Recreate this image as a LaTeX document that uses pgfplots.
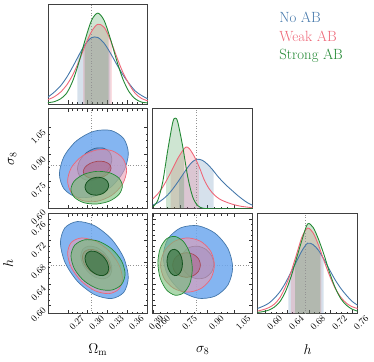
\documentclass[border=0pt]{standalone}
\usepackage{pgfplots}
\pgfplotsset{compat=1.18}
\usepgfplotslibrary{fillbetween}

\definecolor{cb}{HTML}{4477AA}
\definecolor{cp}{HTML}{EE6677}
\definecolor{cg}{HTML}{228833}
\definecolor{cbF}{HTML}{6EA8EE}
\definecolor{cbD}{HTML}{3C78C8}
\definecolor{cpF}{HTML}{E89CB4}
\definecolor{cpD}{HTML}{B05A7A}
\definecolor{cgF}{HTML}{74BC74}
\definecolor{cgD}{HTML}{2E6E3A}

\pgfplotsset{
  corner/.style={
    scale only axis, width=101.5pt, height=101.5pt,
    axis line style={black!75, line width=0.7pt},
    tick align=inside,
    major tick length=3.5pt, minor tick length=2pt,
    every tick/.style={black!80, line width=0.45pt},
    ticklabel style={font=\fontsize{9.5}{10}\selectfont},
    xticklabel style={rotate=45, anchor=center, yshift=-13pt},
    yticklabel style={rotate=45, anchor=center, xshift=-13.5pt},
    minor x tick num=3, minor y tick num=3,
  },
  oned/.style={corner, ymin=0, ymax=101.5, ytick=\empty, xtick pos=left},
  omx/.style={xmin=0.24, xmax=0.391, xtick={0.27,0.30,0.33,0.36,0.39}},
  s8x/.style={xmin=0.595, xmax=1.153, xtick={0.60,0.75,0.90,1.05}},
  s8y/.style={ymin=0.595, ymax=1.153, ytick={0.60,0.75,0.90,1.05}},
  hx/.style={xmin=0.585, xmax=0.770, xtick={0.60,0.64,0.68,0.72,0.76}},
  hy/.style={ymin=0.585, ymax=0.770, ytick={0.60,0.64,0.68,0.72,0.76}},
  fid/.style={gray!85, dotted, line width=0.7pt},
  crv/.style={line width=0.9pt, smooth},
  outB/.style={draw=cb, line width=0.7pt, fill=cbF, fill opacity=0.85, smooth cycle},
  inB/.style={draw=cb!80!black, line width=0.7pt, fill=cbD, fill opacity=0.5, smooth cycle},
  outP/.style={draw=cp, line width=0.7pt, fill=cpF, fill opacity=0.6, smooth cycle},
  inP/.style={draw=cp!70!black, line width=0.7pt, fill=cpD, fill opacity=0.45, smooth cycle},
  outG/.style={draw=cg, line width=0.7pt, fill=cgF, fill opacity=0.6, smooth cycle},
  inG/.style={draw=cg!60!black, line width=0.8pt, fill=cgD, fill opacity=0.6, smooth cycle},
}

% 1D posteriors (heights in arbitrary units)
\pgfplotstableread{
x b p g
0.2400 6.8 4.3 1.2
0.2494 11.8 7.1 2.2
0.2589 18.1 11.8 5.0
0.2683 26.8 19.0 10.8
0.2777 37.8 29.6 23.5
0.2872 49.9 43.7 42.9
0.2966 60.8 59.7 65.8
0.3061 67.3 73.7 85.0
0.3155 67.4 80.9 92.2
0.3250 61.6 77.8 84.7
0.3344 51.7 65.0 66.3
0.3439 40.3 47.9 44.2
0.3533 29.6 32.1 25.2
0.3627 20.7 20.0 12.2
0.3722 13.0 10.5 5.0
0.3816 8.5 5.5 1.8
0.3911 5.0 3.0 1.0
}\omtab

\pgfplotstableread{
x y
0.5950 1.8
0.6229 8.4
0.6508 27.2
0.6787 59.3
0.7066 87.6
0.7205 92.0
0.7345 88.2
0.7623 63.3
0.7903 32.5
0.8181 12.0
0.8460 3.2
0.8739 0.6
0.9018 0.1
0.9483 0.0
1.1528 0.0
}\sgtab

\pgfplotstableread{
x y
0.5950 10
0.6229 15
0.6508 22
0.6787 31
0.7066 41
0.7345 51
0.7623 59
0.7810 62.7
0.7996 61
0.8274 53
0.8554 42
0.8832 29
0.9111 20
0.9390 14
0.9669 10
0.9947 7.5
1.0412 4.5
1.0878 2.5
1.1528 1
}\sptab

\pgfplotstableread{
x y
0.5950 3.7
0.6229 6
0.6508 9.5
0.6787 14
0.7066 20
0.7345 27
0.7623 34.5
0.7903 42
0.8181 48
0.8460 50.3
0.8739 49
0.9018 45
0.9297 39.5
0.9576 33
0.9854 27.5
1.0134 22.5
1.0412 18
1.0691 13.5
1.0971 9.5
1.1249 6
1.1528 3.5
}\sbtab

\pgfplotstableread{
x b p g
0.5850 5.2 2.5 1.2
0.5953 7.5 4 2
0.6056 10.5 6 3.5
0.6158 15.5 9.5 6.5
0.6261 22 16 12
0.6364 31 27 22
0.6467 42 42 37
0.6570 53 60 56
0.6673 64 78 75
0.6775 71.5 86.8 91
0.6878 70 82 87.5
0.6981 64 69 75
0.7084 54.5 53 59
0.7187 44 38 41
0.7289 34 25.5 26
0.7392 25.5 16.5 15
0.7495 18.5 10.5 8.5
0.7598 12.5 7 4.5
0.7700 8.5 5.2 2.5
}\htab

\begin{document}
\begin{tikzpicture}
\path (0,0) rectangle (374pt,-367pt);

% ---- Omega_m 1D
\begin{axis}[oned, omx, xticklabels={}, at={(48.3pt,-4pt)}, anchor=north west]
  \addplot[fid] coordinates {(0.305,0) (0.305,101.5)};
  \addplot[draw=none, name path=base] coordinates {(0.24,0) (0.391,0)};
  \addplot[draw=none, name path=ob, smooth] table[x=x,y=b]{\omtab};
  \addplot[draw=none, name path=op, smooth] table[x=x,y=p]{\omtab};
  \addplot[draw=none, name path=og, smooth] table[x=x,y=g]{\omtab};
  \addplot[fill=cb, fill opacity=0.22, draw=none] fill between[of=ob and base, soft clip={domain=0.2846:0.3343}];
  \addplot[fill=cp, fill opacity=0.22, draw=none] fill between[of=op and base, soft clip={domain=0.2931:0.3367}];
  \addplot[fill=cg, fill opacity=0.22, draw=none] fill between[of=og and base, soft clip={domain=0.2957:0.3318}];
  \addplot[cb, crv] table[x=x,y=b]{\omtab};
  \addplot[cp, crv] table[x=x,y=p]{\omtab};
  \addplot[cg, crv] table[x=x,y=g]{\omtab};
\end{axis}

% ---- sigma_8 vs Omega_m
\begin{axis}[corner, omx, s8y, xticklabels={}, yticklabels={0.60,0.75,0.90,1.05},
  at={(48.3pt,-110.5pt)}, anchor=north west]
  \addplot[fid] coordinates {(0.305,0.595) (0.305,1.153)};
  \addplot[fid] coordinates {(0.24,0.836) (0.391,0.836)};
  \addplot[outB] coordinates {(0.3616,0.9030) (0.3546,0.9862) (0.3356,1.0317) (0.3095,1.0275) (0.2834,0.9746) (0.2644,0.8872) (0.2574,0.7887) (0.2644,0.7055) (0.2834,0.6600) (0.3095,0.6642) (0.3356,0.7171) (0.3546,0.8045)};
  \addplot[inB] coordinates {(0.3367,0.8716) (0.3332,0.9116) (0.3237,0.9334) (0.3107,0.9315) (0.2977,0.9060) (0.2882,0.8641) (0.2847,0.8167) (0.2882,0.7768) (0.2977,0.7550) (0.3107,0.7569) (0.3237,0.7824) (0.3332,0.8243)};
  \addplot[outP] coordinates {(0.3590,0.8093) (0.3530,0.8771) (0.3367,0.9190) (0.3144,0.9235) (0.2921,0.8897) (0.2758,0.8264) (0.2698,0.7507) (0.2758,0.6829) (0.2921,0.6410) (0.3144,0.6364) (0.3367,0.6703) (0.3530,0.7335)};
  \addplot[inP] coordinates {(0.3355,0.8218) (0.3327,0.8443) (0.3250,0.8582) (0.3145,0.8596) (0.3040,0.8485) (0.2963,0.8275) (0.2935,0.8024) (0.2963,0.7799) (0.3040,0.7660) (0.3145,0.7646) (0.3250,0.7757) (0.3327,0.7967)};
  \addplot[outG] coordinates {(0.3526,0.7215) (0.3474,0.7658) (0.3332,0.7959) (0.3137,0.8035) (0.2942,0.7868) (0.2800,0.7500) (0.2748,0.7033) (0.2800,0.6589) (0.2942,0.6288) (0.3137,0.6213) (0.3332,0.6380) (0.3474,0.6747)};
  \addplot[inG] coordinates {(0.3319,0.7257) (0.3295,0.7500) (0.3230,0.7665) (0.3140,0.7707) (0.3050,0.7615) (0.2985,0.7413) (0.2961,0.7156) (0.2985,0.6912) (0.3050,0.6747) (0.3140,0.6706) (0.3230,0.6798) (0.3295,0.7000)};
\end{axis}

% ---- sigma_8 1D
\begin{axis}[oned, s8x, xticklabels={}, at={(154.8pt,-110.5pt)}, anchor=north west]
  \addplot[fid] coordinates {(0.836,0) (0.836,101.5)};
  \addplot[draw=none, name path=base] coordinates {(0.595,0) (1.153,0)};
  \addplot[draw=none, name path=sb, smooth] table{\sbtab};
  \addplot[draw=none, name path=sp, smooth] table{\sptab};
  \addplot[draw=none, name path=sg, smooth] table{\sgtab};
  \addplot[fill=cb, fill opacity=0.22, draw=none] fill between[of=sb and base, soft clip={domain=0.7428:0.9352}];
  \addplot[fill=cp, fill opacity=0.22, draw=none] fill between[of=sp and base, soft clip={domain=0.6950:0.8527}];
  \addplot[fill=cg, fill opacity=0.22, draw=none] fill between[of=sg and base, soft clip={domain=0.6692:0.7703}];
  \addplot[cb, crv] table{\sbtab};
  \addplot[cp, crv] table{\sptab};
  \addplot[cg, crv] table{\sgtab};
\end{axis}

% ---- h vs Omega_m
\begin{axis}[corner, omx, hy, xticklabels={0.27,0.30,0.33,0.36,0.39}, yticklabels={0.60,0.64,0.68,0.72,0.76},
  at={(48.3pt,-217pt)}, anchor=north west]
  \addplot[fid] coordinates {(0.305,0.585) (0.305,0.770)};
  \addplot[fid] coordinates {(0.24,0.674) (0.391,0.674)};
  \addplot[outB] coordinates {(0.3615,0.6520) (0.3546,0.6882) (0.3359,0.7232) (0.3102,0.7479) (0.2845,0.7554) (0.2658,0.7439) (0.2589,0.7162) (0.2658,0.6800) (0.2845,0.6450) (0.3102,0.6203) (0.3359,0.6128) (0.3546,0.6243)};
  \addplot[inB] coordinates {(0.3367,0.6674) (0.3336,0.6830) (0.3250,0.6977) (0.3132,0.7075) (0.3014,0.7098) (0.2928,0.7040) (0.2897,0.6918) (0.2928,0.6762) (0.3014,0.6615) (0.3132,0.6517) (0.3250,0.6494) (0.3336,0.6552)};
  \addplot[outP] coordinates {(0.3526,0.6502) (0.3471,0.6763) (0.3319,0.7017) (0.3112,0.7195) (0.2905,0.7249) (0.2753,0.7166) (0.2698,0.6966) (0.2753,0.6705) (0.2905,0.6451) (0.3112,0.6273) (0.3319,0.6219) (0.3471,0.6302)};
  \addplot[inP] coordinates {(0.3343,0.6698) (0.3315,0.6823) (0.3238,0.6941) (0.3132,0.7020) (0.3026,0.7039) (0.2949,0.6992) (0.2921,0.6894) (0.2949,0.6769) (0.3026,0.6651) (0.3132,0.6572) (0.3238,0.6553) (0.3315,0.6600)};
  \addplot[outG] coordinates {(0.3567,0.6585) (0.3512,0.6828) (0.3363,0.7050) (0.3158,0.7192) (0.2953,0.7215) (0.2804,0.7114) (0.2749,0.6915) (0.2804,0.6672) (0.2953,0.6450) (0.3158,0.6308) (0.3363,0.6285) (0.3512,0.6386)};
  \addplot[inG] coordinates {(0.3319,0.6689) (0.3295,0.6806) (0.3230,0.6915) (0.3140,0.6989) (0.3050,0.7007) (0.2985,0.6963) (0.2961,0.6871) (0.2985,0.6754) (0.3050,0.6645) (0.3140,0.6571) (0.3230,0.6553) (0.3295,0.6597)};
\end{axis}

% ---- h vs sigma_8
\begin{axis}[corner, s8x, hy, xticklabels={0.60,0.75,0.90,1.05}, yticklabels={},
  at={(154.8pt,-217pt)}, anchor=north west]
  \addplot[fid] coordinates {(0.836,0.585) (0.836,0.770)};
  \addplot[fid] coordinates {(0.595,0.674) (1.153,0.674)};
  \addplot[outB] coordinates {(1.0412,0.6703) (1.0152,0.7052) (0.9442,0.7335) (0.8472,0.7476) (0.7502,0.7436) (0.6792,0.7228) (0.6532,0.6907) (0.6792,0.6558) (0.7502,0.6275) (0.8472,0.6134) (0.9442,0.6174) (1.0152,0.6382)};
  \addplot[inB] coordinates {(0.9357,0.6766) (0.9234,0.6921) (0.8900,0.7043) (0.8442,0.7098) (0.7984,0.7073) (0.7649,0.6974) (0.7527,0.6826) (0.7649,0.6671) (0.7984,0.6549) (0.8442,0.6494) (0.8900,0.6519) (0.9234,0.6618)};
  \addplot[outP] coordinates {(0.9394,0.6749) (0.9192,0.7000) (0.8642,0.7184) (0.7890,0.7251) (0.7138,0.7184) (0.6588,0.7000) (0.6387,0.6749) (0.6588,0.6498) (0.7138,0.6314) (0.7890,0.6247) (0.8642,0.6314) (0.9192,0.6498)};
  \addplot[inP] coordinates {(0.8613,0.6749) (0.8509,0.6863) (0.8225,0.6946) (0.7837,0.6977) (0.7449,0.6946) (0.7164,0.6863) (0.7061,0.6749) (0.7164,0.6635) (0.7449,0.6552) (0.7837,0.6521) (0.8225,0.6552) (0.8509,0.6635)};
  \addplot[outG] coordinates {(0.8159,0.6679) (0.8030,0.6959) (0.7679,0.7178) (0.7197,0.7278) (0.6716,0.7233) (0.6365,0.7053) (0.6236,0.6789) (0.6365,0.6509) (0.6716,0.6290) (0.7197,0.6190) (0.7679,0.6235) (0.8030,0.6415)};
  \addplot[inG] coordinates {(0.7610,0.6772) (0.7552,0.6896) (0.7394,0.6994) (0.7178,0.7039) (0.6962,0.7019) (0.6805,0.6938) (0.6746,0.6820) (0.6805,0.6696) (0.6962,0.6598) (0.7178,0.6553) (0.7394,0.6573) (0.7552,0.6654)};
\end{axis}

% ---- h 1D
\begin{axis}[oned, hx, xticklabels={0.60,0.64,0.68,0.72,0.76}, at={(261.3pt,-217pt)}, anchor=north west]
  \addplot[fid] coordinates {(0.674,0) (0.674,101.5)};
  \addplot[draw=none, name path=base] coordinates {(0.585,0) (0.770,0)};
  \addplot[draw=none, name path=hb, smooth] table[x=x,y=b]{\htab};
  \addplot[draw=none, name path=hp, smooth] table[x=x,y=p]{\htab};
  \addplot[draw=none, name path=hg, smooth] table[x=x,y=g]{\htab};
  \addplot[fill=cb, fill opacity=0.22, draw=none] fill between[of=hb and base, soft clip={domain=0.6422:0.7071}];
  \addplot[fill=cp, fill opacity=0.22, draw=none] fill between[of=hp and base, soft clip={domain=0.6464:0.7030}];
  \addplot[fill=cg, fill opacity=0.22, draw=none] fill between[of=hg and base, soft clip={domain=0.6543:0.7011}];
  \addplot[cb, crv] table[x=x,y=b]{\htab};
  \addplot[cp, crv] table[x=x,y=p]{\htab};
  \addplot[cg, crv] table[x=x,y=g]{\htab};
\end{axis}

% axis labels
\node at (99pt,-355pt) {\fontsize{14}{16}\selectfont $\Omega_{\mathrm{m}}$};
\node at (205.5pt,-356pt) {\fontsize{14}{16}\selectfont $\sigma_8$};
\node at (312pt,-355pt) {\fontsize{14}{16}\selectfont $h$};
\node[rotate=90] at (12pt,-161.25pt) {\fontsize{14}{16}\selectfont $\sigma_8$};
\node[rotate=90] at (8pt,-267.75pt) {\fontsize{14}{16}\selectfont $h$};

% legend
\node[anchor=base west, text=cb, inner sep=0pt] at (283.3pt,-23pt) {\fontsize{15}{18}\selectfont No AB};
\node[anchor=base west, text=cp, inner sep=0pt] at (283.3pt,-41.7pt) {\fontsize{15}{18}\selectfont Weak AB};
\node[anchor=base west, text=cg, inner sep=0pt] at (283.3pt,-60.2pt) {\fontsize{15}{18}\selectfont Strong AB};
\end{tikzpicture}
\end{document}
